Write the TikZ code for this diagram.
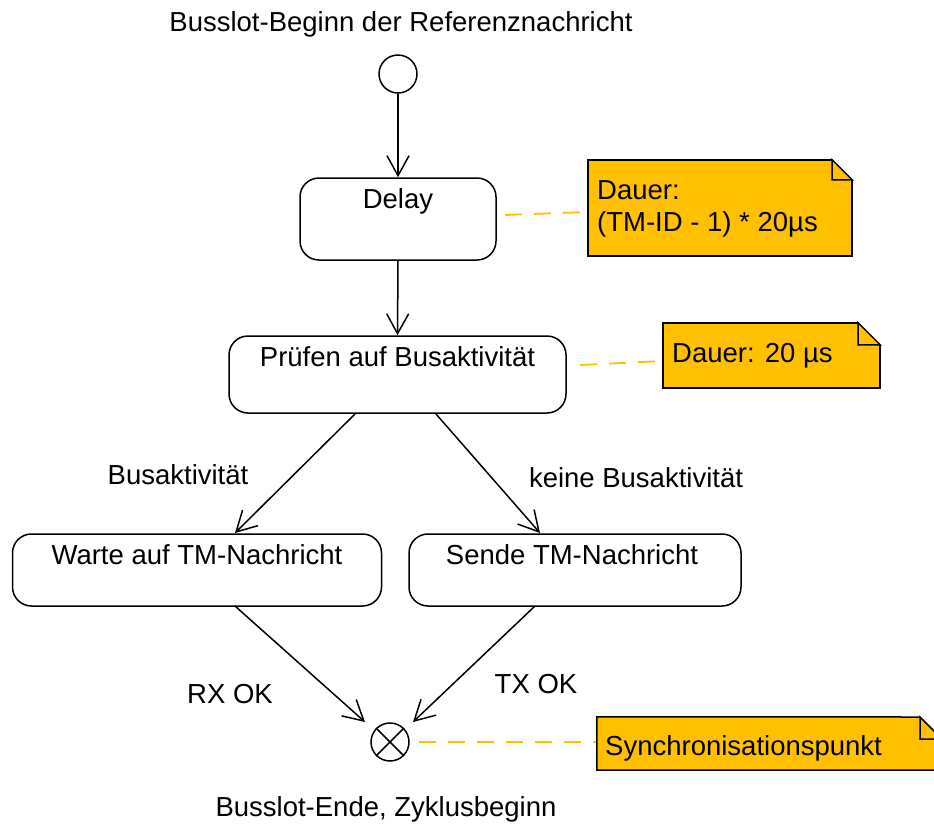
\documentclass[tikz,border=0pt]{standalone}
\usepackage{fontspec}
\setmainfont{Liberation Sans}
\usetikzlibrary{arrows.meta,calc}
\definecolor{notegold}{HTML}{FFC000}
\tikzset{
  every node/.style={font=\fontsize{27.5}{32}\selectfont, inner sep=0pt},
  state/.style={draw, line width=1.5pt, rounded corners=19pt, fill=white},
  flow/.style={draw, line width=1.5pt, -{Straight Barb[length=20pt,width=22pt,line width=1.5pt]}},
  anchorline/.style={draw=notegold, line width=1.8pt, dash pattern=on 17pt off 12pt},
  notebox/.style={fill=notegold},
  lbl/.style={anchor=base},
  ltext/.style={anchor=base west},
}
\newcommand{\notefold}[2]{% #1 = node name, #2 = fold size
  \fill[white] ($(#1.north east)+(-#2,0)$) -- (#1.north east) -- ($(#1.north east)+(0,#2)$) -- cycle;
  \draw[line width=1.5pt, fill=notegold, line join=miter] ($(#1.north east)+(-#2,0)$) -- ($(#1.north east)+(0,#2)$) -- ($(#1.north east)+(-#2,#2)$) -- cycle;
  \draw[line width=1.5pt] ($(#1.north east)+(-#2,0)$) -- (#1.north west) -- (#1.south west) -- (#1.south east) -- ($(#1.north east)+(0,#2)$);
}
\begin{document}
\begin{tikzpicture}[x=1pt,y=-1pt]
\useasboundingbox (0,0) rectangle (934,825);
\clip (0,0) rectangle (934,825);

% title and end text
\node[lbl] (title) at (401,31) {Busslot-Beginn der Referenznachricht};
\node[lbl] (endtxt) at (386,816) {Busslot-Ende, Zyklusbeginn};

% initial node
\node[draw, circle, line width=1.5pt, minimum size=38pt, fill=white] (init) at (398,74) {};

% states
\node[state, minimum width=196pt, minimum height=82pt] (delay) at (398,219) {};
\node[lbl] (delayT) at (398,208) {Delay};

\node[state, minimum width=337pt, minimum height=77pt] (pruef) at (397.5,374.5) {};
\node[lbl] (pruefT) at (397.5,366) {Prüfen auf Busaktivität};

\node[state, minimum width=369pt, minimum height=72pt] (warte) at (197,570) {};
\node[lbl] (warteT) at (197,564) {Warte auf TM-Nachricht};

\node[state, minimum width=332pt, minimum height=72pt] (sende) at (575,570) {};
\node[lbl] (sendeT) at (572,564) {Sende TM-Nachricht};

% merge node
\node[draw, circle, line width=1.5pt, minimum size=38pt, fill=white] (merge) at (390,742) {};
\draw[line width=1.5pt] (merge.north west) -- (merge.south east);
\draw[line width=1.5pt] (merge.north east) -- (merge.south west);

% flows
\draw[flow] (init.south) -- (delay.north);
\draw[flow] (delay.south) -- (pruef.north);
\coordinate (p1) at (355,414);
\coordinate (w1) at (235,533);
\coordinate (p2) at (436,414);
\coordinate (s1) at (540,533);
\draw[flow] (p1) -- (w1);
\draw[flow] (p2) -- (s1);
\coordinate (w2) at (235,606);
\coordinate (s2) at (535,606);
\coordinate (m1) at (365,722);
\coordinate (m2) at (413,722);
\draw[flow] (w2) -- (m1);
\draw[flow] (s2) -- (m2);

% flow labels
\node[lbl] (l1) at (178,484) {Busaktivität};
\node[lbl] (l2) at (636,487) {keine Busaktivität};
\node[lbl] (l3) at (230,703) {RX OK};
\node[lbl] (l4) at (536,693) {TX OK};

% notes
\node[notebox, minimum width=264pt, minimum height=96pt] (n1) at (720,208) {};
\coordinate (a1) at (505,215);
\draw[anchorline] (a1) -- (n1.west |- 0,212);
\notefold{n1}{20}
\node[ltext] (n1a) at (597,199) {Dauer:};
\node[ltext] (n1b) at (597,231) {(TM-ID - 1) * 20µs};

\node[notebox, minimum width=217pt, minimum height=65pt] (n2) at (771.5,355.5) {};
\coordinate (a2) at (580,365);
\draw[anchorline] (a2) -- (n2.west |- 0,361);
\notefold{n2}{22}
\node[ltext] (n2a) at (672,362) {Dauer: 20 µs};

\node[notebox, minimum width=355pt, minimum height=53pt] (n3) at (774.5,743.5) {};
\draw[anchorline, shorten <=9pt] (merge.east) -- (n3.west |- merge.east);
\fill[white] (920,717) -- (942,717) -- (942,739) -- cycle;
\draw[line width=1.5pt, fill=notegold] (920,717) -- (942,739) -- (920,739) -- cycle;
\draw[line width=1.5pt] (920,717) -- (n3.north west) -- (n3.south west) -- (n3.south east);
\node[ltext] (n3a) at (605,755) {Synchronisationspunkt};
\end{tikzpicture}
\end{document}
